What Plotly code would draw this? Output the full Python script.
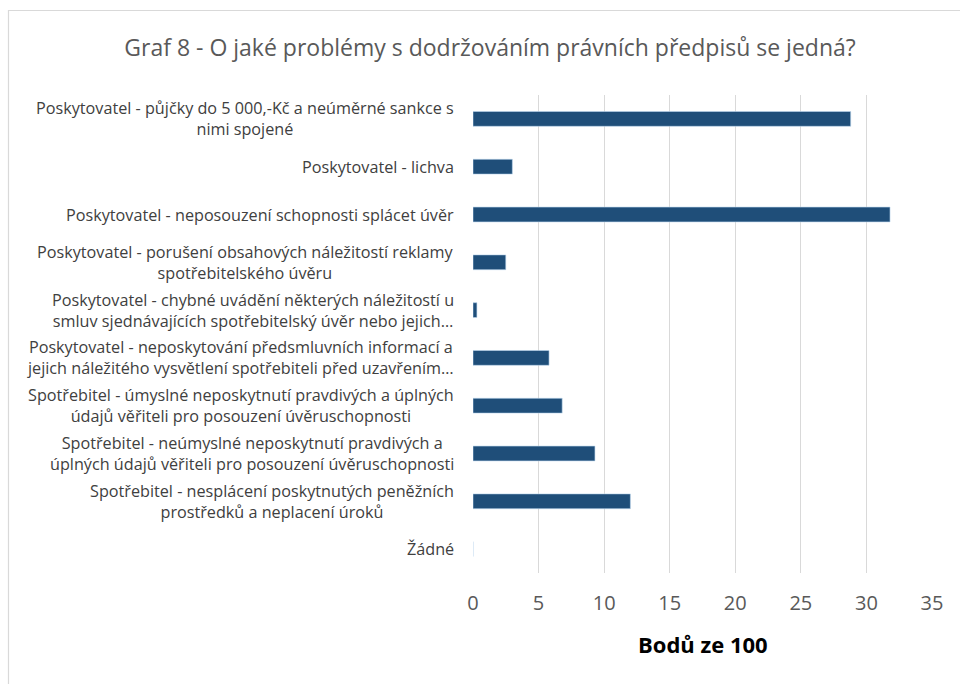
import plotly.graph_objects as go

categories = [
    "Poskytovatel - půjčky do 5 000,-Kč a neúměrné sankce s<br>nimi spojené",
    "Poskytovatel - lichva",
    "Poskytovatel - neposouzení schopnosti splácet úvěr",
    "Poskytovatel - porušení obsahových náležitostí reklamy<br>spotřebitelského úvěru",
    "Poskytovatel - chybné uvádění některých náležitostí u<br>smluv sjednávajících spotřebitelský úvěr nebo jejich…",
    "Poskytovatel - neposkytování předsmluvních informací a<br>jejich náležitého vysvětlení spotřebiteli před uzavřením…",
    "Spotřebitel - úmyslné neposkytnutí pravdivých a úplných<br>údajů věřiteli pro posouzení úvěruschopnosti",
    "Spotřebitel - neúmyslné neposkytnutí pravdivých a<br>úplných údajů věřiteli pro posouzení úvěruschopnosti",
    "Spotřebitel - nesplácení poskytnutých peněžních<br>prostředků a neplacení úroků",
    "Žádné",
]
values = [28.8, 3.0, 31.8, 2.5, 0.3, 5.8, 6.8, 9.3, 12.0, 0.0]
x_ticks = [0, 5, 10, 15, 20, 25, 30, 35]

title_text = "Graf 8 - O jaké problémy s dodržováním právních předpisů se jedná?"
x_title = "Bodů ze 100"

FONT = "Open Sans"

fig = go.Figure()
fig.add_trace(go.Bar(
    y=list(range(len(categories))),
    x=values,
    orientation="h",
    width=0.31,
    marker=dict(color="#1F4E79", line=dict(color="#BDD7EE", width=0.6)),
    hoverinfo="x",
))

annotations = []
for i, c in enumerate(categories):
    annotations.append(dict(
        x=0, y=i, xref="paper", yref="y", text=c, showarrow=False,
        xanchor="right", yanchor="middle", align="center", xshift=-17,
        font=dict(family=FONT, size=16.2, color="#404040"),
    ))
annotations.append(dict(
    x=0.5, y=-0.148, xref="paper", yref="paper", text="<b>" + x_title + "</b>",
    showarrow=False, xanchor="center", yanchor="middle",
    font=dict(family=FONT, size=22, color="#000000"),
))

fig.update_layout(
    width=960, height=684,
    margin=dict(l=473, r=28, t=95, b=111),
    paper_bgcolor="white", plot_bgcolor="white",
    title=dict(text=title_text, x=490/960, y=1-48/684, xref="container", yref="container",
               xanchor="center", yanchor="middle",
               font=dict(family=FONT, size=23, color="#595959")),
    xaxis=dict(range=[0, 35], tickvals=x_ticks, showgrid=True, gridcolor="#D9D9D9", gridwidth=1.3,
               zeroline=False, showline=False, ticks="",
               tickfont=dict(family=FONT, size=20, color="#595959"),
               ticklabelstandoff=16),
    yaxis=dict(range=[len(categories)-0.5, -0.5], showticklabels=False, showgrid=False,
               zeroline=False, showline=False, ticks=""),
    showlegend=False,
    annotations=annotations,
    shapes=[dict(type="rect", xref="paper", yref="paper",
                 x0=(8.5-473)/459, x1=2, y0=-0.4, y1=(573-10.5)/478,
                 line=dict(color="#D9D9D9", width=1.2), fillcolor="rgba(0,0,0,0)", layer="below")],
)

fig.write_html("out.html")
